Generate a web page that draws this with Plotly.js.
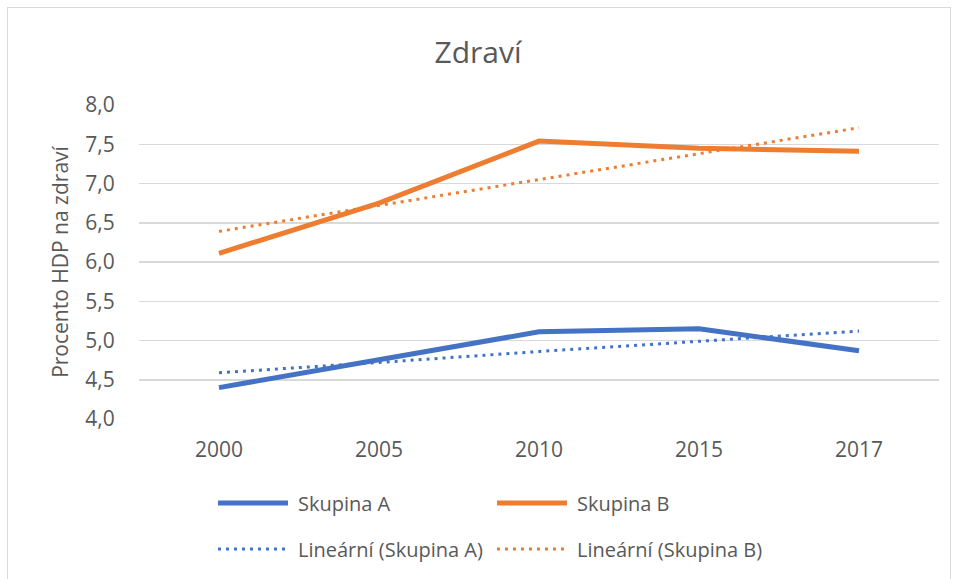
<!DOCTYPE html>
<html>
<head>
<meta charset="utf-8">
<script src="https://cdn.plot.ly/plotly-3.0.1.min.js"></script>
<style>
html,body{margin:0;padding:0;background:#fff;}
#wrap{position:relative;width:956px;height:579px;}
#chart{width:956px;height:579px;}
#frame{position:absolute;left:7px;top:7px;width:942px;height:575px;border:1px solid #d9d9d9;pointer-events:none;}
</style>
</head>
<body>
<div id="wrap"><div id="chart"></div><div id="frame"></div></div>
<script>
// Data
const years = ['2000', '2005', '2010', '2015', '2017'];
const groupA = [4.40, 4.75, 5.11, 5.15, 4.87];
const groupB = [6.11, 6.75, 7.54, 7.45, 7.41];
const trendA = [4.59, 4.72, 4.86, 4.99, 5.12];
const trendB = [6.39, 6.72, 7.05, 7.38, 7.71];
const seriesNames = ['Skupina A', 'Skupina B', 'Lineární (Skupina A)', 'Lineární (Skupina B)'];
const yTicks = [4.0, 4.5, 5.0, 5.5, 6.0, 6.5, 7.0, 7.5, 8.0];

const blue = '#4472C4', orange = '#ED7D31', txt = '#595959';
const FONT = 'Open Sans, sans-serif';
const W = 956, H = 579, M = {l: 139, r: 17, t: 105, b: 160};
const PW = W - M.l - M.r, PH = H - M.t - M.b;

const solid = c => ({color: c, width: 5});
const dotted = c => ({color: c, width: 3, dash: '3px,5px'});
const styles = [solid(blue), solid(orange), dotted(blue), dotted(orange)];
const values = [groupA, groupB, trendA, trendB];

const traces = values.map((v, i) => ({
  x: years, y: v, name: seriesNames[i], type: 'scatter', mode: 'lines',
  line: styles[i], showlegend: false
}));

// Legend drawn as layout shapes + annotations (2 x 2 grid, long swatches)
const px2x = p => (p - M.l) / PW;
const py2y = p => (H - M.b - p) / PH;
const legCols = [218, 497], legRows = [503, 549], swatch = 70, gap = 8;
const shapes = [], annotations = [];
seriesNames.forEach((n, i) => {
  const cx = legCols[i % 2], cy = legRows[Math.floor(i / 2)];
  shapes.push({type: 'line', xref: 'paper', yref: 'paper',
    x0: px2x(cx), x1: px2x(cx + swatch), y0: py2y(cy), y1: py2y(cy), line: styles[i]});
  annotations.push({xref: 'paper', yref: 'paper', x: px2x(cx + swatch + gap), y: py2y(cy),
    xanchor: 'left', yanchor: 'middle', text: n, showarrow: false,
    font: {size: 20, color: txt, family: FONT}});
});

const layout = {
  width: W, height: H,
  paper_bgcolor: '#fff', plot_bgcolor: '#fff',
  separators: ', ',
  font: {family: FONT, color: txt, size: 21},
  margin: M,
  showlegend: false,
  title: {text: 'Zdraví', x: 0.5, xanchor: 'center', y: 1 - 52/579, yanchor: 'middle',
          yref: 'container', font: {size: 30, color: txt, family: FONT}},
  xaxis: {type: 'category', range: [-0.5, 4.5], showgrid: false, zeroline: false,
          showline: false, ticks: 'outside', ticklen: 12, tickcolor: 'rgba(0,0,0,0)',
          tickfont: {size: 21, color: txt}},
  yaxis: {range: [4.0, 8.0], tickvals: yTicks, tickformat: '.1f', showgrid: true,
          gridcolor: '#d9d9d9', gridwidth: 1.5, zeroline: false, showline: false,
          ticks: 'outside', ticklen: 19, tickcolor: 'rgba(0,0,0,0)',
          tickfont: {size: 21, color: txt},
          title: {text: 'Procento HDP na zdraví', standoff: 10, font: {size: 21, color: txt}}},
  shapes: shapes,
  annotations: annotations
};

Plotly.newPlot('chart', traces, layout, {displayModeBar: false, staticPlot: true});
</script>
</body>
</html>
